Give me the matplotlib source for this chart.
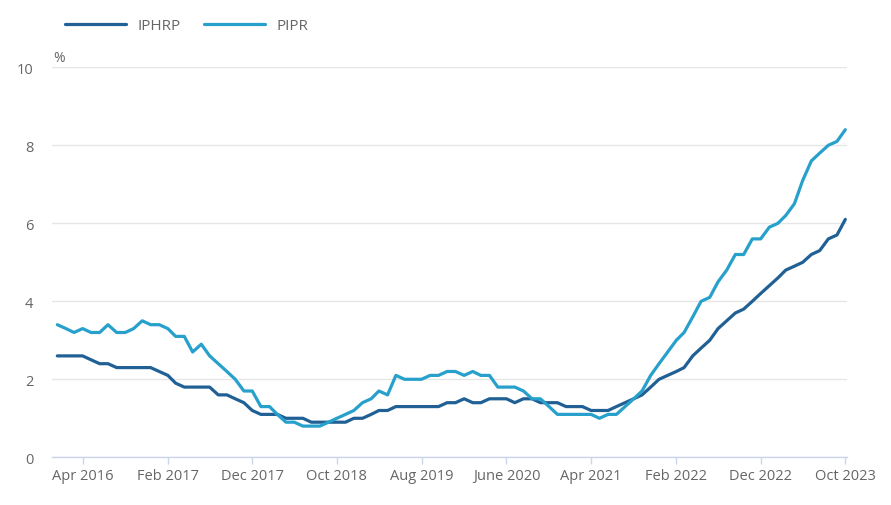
import pandas as pd
import matplotlib.pyplot as plt
import numpy as np

# monthly values, Jan 2016 - Oct 2023 (%)
iphrp = [2.6, 2.6, 2.6, 2.6, 2.5, 2.4, 2.4, 2.3, 2.3, 2.3, 2.3, 2.3,
         2.2, 2.1, 1.9, 1.8, 1.8, 1.8, 1.8, 1.6, 1.6, 1.5, 1.4, 1.2,
         1.1, 1.1, 1.1, 1.0, 1.0, 1.0, 0.9, 0.9, 0.9, 0.9, 0.9, 1.0,
         1.0, 1.1, 1.2, 1.2, 1.3, 1.3, 1.3, 1.3, 1.3, 1.3, 1.4, 1.4,
         1.5, 1.4, 1.4, 1.5, 1.5, 1.5, 1.4, 1.5, 1.5, 1.4, 1.4, 1.4,
         1.3, 1.3, 1.3, 1.2, 1.2, 1.2, 1.3, 1.4, 1.5, 1.6, 1.8, 2.0,
         2.1, 2.2, 2.3, 2.6, 2.8, 3.0, 3.3, 3.5, 3.7, 3.8, 4.0, 4.2,
         4.4, 4.6, 4.8, 4.9, 5.0, 5.2, 5.3, 5.6, 5.7, 6.1]
pipr = [3.4, 3.3, 3.2, 3.3, 3.2, 3.2, 3.4, 3.2, 3.2, 3.3, 3.5, 3.4,
        3.4, 3.3, 3.1, 3.1, 2.7, 2.9, 2.6, 2.4, 2.2, 2.0, 1.7, 1.7,
        1.3, 1.3, 1.1, 0.9, 0.9, 0.8, 0.8, 0.8, 0.9, 1.0, 1.1, 1.2,
        1.4, 1.5, 1.7, 1.6, 2.1, 2.0, 2.0, 2.0, 2.1, 2.1, 2.2, 2.2,
        2.1, 2.2, 2.1, 2.1, 1.8, 1.8, 1.8, 1.7, 1.5, 1.5, 1.3, 1.1,
        1.1, 1.1, 1.1, 1.1, 1.0, 1.1, 1.1, 1.3, 1.5, 1.7, 2.1, 2.4,
        2.7, 3.0, 3.2, 3.6, 4.0, 4.1, 4.5, 4.8, 5.2, 5.2, 5.6, 5.6,
        5.9, 6.0, 6.2, 6.5, 7.1, 7.6, 7.8, 8.0, 8.1, 8.4]
months = pd.date_range('2016-01-01', periods=len(iphrp), freq='MS')

tick_dates = pd.to_datetime(['2016-04-01', '2017-02-01', '2017-12-01', '2018-10-01',
                             '2019-08-01', '2020-06-01', '2021-04-01', '2022-02-01',
                             '2022-12-01', '2023-10-01'])
tick_labels = ['Apr 2016', 'Feb 2017', 'Dec 2017', 'Oct 2018', 'Aug 2019',
               'June 2020', 'Apr 2021', 'Feb 2022', 'Dec 2022', 'Oct 2023']

plt.rcParams['font.family'] = ['Open Sans', 'DejaVu Sans']

fig = plt.figure(figsize=(8.91, 5.06), dpi=100)
ax = fig.add_axes([0.0584, 0.0943, 0.8922, 0.7707])

ax.plot(months, iphrp, color='#206095', lw=2.3, label='IPHRP', solid_capstyle='round')
ax.plot(months, pipr, color='#27a0cc', lw=2.3, label='PIPR', solid_capstyle='round')

ax.set_ylim(0, 10)
ax.set_yticks([0, 2, 4, 6, 8, 10])
ax.set_xlim(months[0] - pd.Timedelta(days=19), months[-1] + pd.Timedelta(days=6))
ax.set_xticks(tick_dates)
ax.set_xticklabels(tick_labels)

ax.grid(axis='y', color='#e6e6e6', lw=1)
ax.set_axisbelow(True)
for s in ['top', 'right', 'left']:
    ax.spines[s].set_visible(False)
ax.spines['bottom'].set_color('#ccd6eb')
ax.spines['bottom'].set_linewidth(1)

ax.tick_params(axis='x', colors='#ccd6eb', length=5, width=1, pad=2.5,
               labelcolor='#666666', labelsize=10.5)
ax.tick_params(axis='y', length=0, pad=13.5, labelcolor='#666666', labelsize=10.5)

ax.text(0.002, 1.006, '%', transform=ax.transAxes, ha='left', va='bottom',
        fontsize=10, color='#666666')

ax.legend(loc='center left', bbox_to_anchor=(0.0164, 1.106), ncol=2, frameon=False,
          handlelength=4.0, handletextpad=0.75, columnspacing=1.5,
          fontsize=11, labelcolor='#666666', borderaxespad=0, borderpad=0)

fig.savefig('out.png', dpi=100)
